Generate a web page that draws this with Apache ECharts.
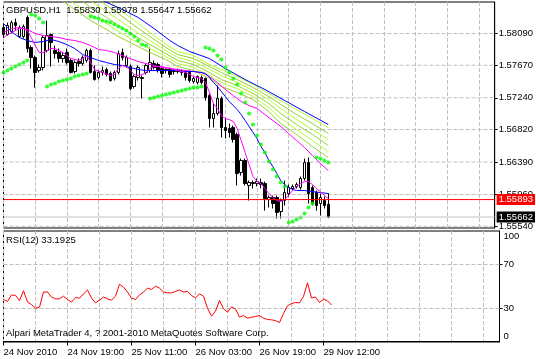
<!DOCTYPE html>
<html><head><meta charset="utf-8">
<script src="https://cdn.jsdelivr.net/npm/echarts@6/dist/echarts.min.js"></script>
<style>html,body{margin:0;padding:0;background:#fff}#c{width:536px;height:359px}</style>
</head><body><div id="c"></div>
<script>
// ---------- data ----------
const symbolTitle = 'GBPUSD,H1  1.55830 1.55978 1.55647 1.55662';
const rsiTitle = 'RSI(12) 33.1925';
const copyright = 'Alpari MetaTrader 4, ? 2001-2010 MetaQuotes Software Corp.';
const timeLabels = ['24 Nov 2010','24 Nov 19:00','25 Nov 11:00','26 Nov 03:00','26 Nov 19:00','29 Nov 12:00'];
const timeLabelBars = [0,16,32,48,64,80];
const totalSlots = 125; // 83 bars + empty chart shift
const priceTicks = [1.58090,1.57670,1.57240,1.56820,1.56390,1.55960,1.55540];
const rsiTicks = [0,30,70,100];
const rsiLevels = [30,70];
const markedLevel = 1.55893;
const bidLevel = 1.55662;

// [open, close, low, high]
const ohlc = [
[1.58169,1.58077,1.58037,1.58222],[1.58077,1.58196,1.58063,1.58235],[1.58116,1.58235,1.58090,1.58262],
[1.58235,1.58196,1.58130,1.58288],[1.58050,1.58169,1.58037,1.58196],[1.58050,1.58182,1.58024,1.58209],
[1.58302,1.57891,1.57839,1.58328],[1.57905,1.57772,1.57627,1.57931],[1.57772,1.57574,1.57375,1.57799],
[1.57600,1.57640,1.57574,1.57680],[1.57640,1.58037,1.57600,1.58063],[1.57865,1.58063,1.57839,1.58262],
[1.58077,1.57971,1.57653,1.58090],[1.57865,1.57825,1.57759,1.57931],[1.57839,1.57759,1.57706,1.57891],
[1.57759,1.57799,1.57706,1.57839],[1.57839,1.57706,1.57680,1.57891],[1.57733,1.57574,1.57561,1.57759],
[1.57587,1.57706,1.57561,1.57733],[1.57719,1.57693,1.57653,1.57759],[1.57693,1.57772,1.57667,1.57799],
[1.57733,1.57865,1.57706,1.57891],[1.57865,1.57574,1.57561,1.57891],[1.57587,1.57481,1.57468,1.57667],
[1.57508,1.57574,1.57481,1.57600],[1.57574,1.57600,1.57534,1.57653],[1.57614,1.57547,1.57521,1.57640],
[1.57561,1.57468,1.57455,1.57587],[1.57495,1.57574,1.57468,1.57600],[1.57574,1.57825,1.57547,1.57865],
[1.57839,1.57772,1.57733,1.57891],[1.57667,1.57772,1.57640,1.57799],[1.57653,1.57362,1.57336,1.57680],
[1.57389,1.57521,1.57362,1.57547],[1.57508,1.57640,1.57468,1.57667],[1.57508,1.57495,1.57230,1.57534],
[1.57574,1.57667,1.57547,1.57693],[1.57600,1.57706,1.57574,1.57905],[1.57693,1.57640,1.57614,1.57733],
[1.57680,1.57600,1.57574,1.57706],[1.57627,1.57561,1.57508,1.57653],[1.57600,1.57614,1.57561,1.57627],
[1.57614,1.57547,1.57508,1.57640],[1.57587,1.57600,1.57547,1.57627],[1.57600,1.57587,1.57561,1.57627],
[1.57587,1.57574,1.57534,1.57614],[1.57574,1.57508,1.57468,1.57600],[1.57574,1.57468,1.57442,1.57600],
[1.57455,1.57495,1.57428,1.57521],[1.57442,1.57521,1.57415,1.57534],[1.57508,1.57442,1.57415,1.57534],
[1.57495,1.57243,1.57204,1.57508],[1.57270,1.56965,1.56846,1.57296],[1.56965,1.57032,1.56846,1.57164],
[1.57032,1.57230,1.57005,1.57402],[1.57230,1.56846,1.56714,1.57256],[1.56846,1.56807,1.56701,1.56965],
[1.56833,1.56780,1.56714,1.56899],[1.56846,1.56688,1.56648,1.56873],[1.56754,1.56238,1.56079,1.56780],
[1.56251,1.56410,1.56211,1.56436],[1.56410,1.56105,1.56079,1.56436],[1.56079,1.56119,1.55881,1.56145],
[1.56119,1.56105,1.56039,1.56145],[1.56105,1.56132,1.56066,1.56172],[1.56119,1.56092,1.56039,1.56172],
[1.56105,1.55907,1.55748,1.56132],[1.55894,1.55920,1.55788,1.55947],[1.55920,1.55841,1.55775,1.55947],
[1.55920,1.55722,1.55642,1.55947],[1.55735,1.55881,1.55642,1.55907],[1.55881,1.55986,1.55814,1.56145],
[1.55973,1.56052,1.55933,1.56092],[1.56039,1.56066,1.56013,1.56092],[1.56066,1.56092,1.56039,1.56119],
[1.56052,1.56172,1.56026,1.56198],[1.56172,1.56383,1.56145,1.56436],[1.56383,1.55973,1.55841,1.56450],
[1.56052,1.55841,1.55814,1.56079],[1.55986,1.55814,1.55748,1.56013],[1.55841,1.55920,1.55682,1.55973],
[1.55881,1.55814,1.55775,1.55933],[1.55830,1.55662,1.55647,1.55978]
];

const parabolicSar = [1.57574,1.57600,1.57627,1.57653,1.57680,1.57706,1.57733,1.58341,1.58328,1.58288,1.58235,
1.57389,1.57415,1.57428,1.57455,1.57468,1.57481,1.57495,1.57521,1.57534,1.57547,1.57561,
1.58315,1.58302,1.58288,1.58262,1.58249,1.58235,1.58209,1.58182,1.58156,1.58130,1.58090,1.58050,1.57997,1.57944,1.57931,
1.57230,1.57243,1.57256,1.57270,1.57283,1.57296,1.57309,1.57323,1.57336,1.57349,1.57362,1.57375,1.57375,1.57389,
1.57905,1.57891,1.57865,1.57799,1.57746,1.57640,1.57574,1.57495,1.57415,1.57296,1.57177,1.57032,1.56886,1.56740,1.56621,1.56516,1.56397,1.56291,1.56198,1.56119,1.56066,
1.55589,1.55602,1.55629,1.55656,1.55709,1.55788,1.55841,
1.56450,1.56436,1.56410,1.56383];

// [bar, value]
const maFast = [[0,1.58037],[2,1.58103],[4,1.58156],[5,1.58156],[6,1.58130],[7,1.58037],[8,1.57931],[9,1.57839],[10,1.57839],[11,1.57865],[12,1.57891],[13,1.57891],[15,1.57839],[17,1.57759],[19,1.57733],[20,1.57759],[21,1.57799],[22,1.57706],[23,1.57614],[25,1.57574],[27,1.57534],[28,1.57547],[29,1.57627],[30,1.57667],[31,1.57653],[32,1.57600],[33,1.57547],[34,1.57534],[35,1.57547],[36,1.57574],[37,1.57627],[38,1.57653],[40,1.57653],[42,1.57627],[44,1.57600],[46,1.57574],[48,1.57521],[50,1.57495],[51,1.57442],[52,1.57309],[53,1.57164],[54,1.57098],[55,1.57005],[56,1.56965],[57,1.56952],[58,1.56926],[59,1.56833],[60,1.56674],[61,1.56516],[62,1.56357],[63,1.56198],[64,1.56132],[65,1.56105],[66,1.56039],[67,1.55973],[68,1.55920],[69,1.55881],[70,1.55867],[71,1.55894],[72,1.55947],[73,1.56013],[74,1.56066],[75,1.56105],[76,1.56132],[77,1.56132],[78,1.56092],[79,1.56039],[80,1.55999],[81,1.55947],[82,1.55907]];
const maMedium = [[0,1.58222],[1,1.58169],[2,1.58116],[4,1.58037],[6,1.57997],[8,1.57971],[10,1.57984],[12,1.58011],[14,1.57984],[16,1.57944],[18,1.57891],[20,1.57812],[22,1.57772],[24,1.57733],[26,1.57706],[28,1.57680],[30,1.57667],[32,1.57640],[34,1.57614],[36,1.57600],[40,1.57600],[44,1.57600],[46,1.57587],[48,1.57587],[50,1.57574],[51,1.57561],[52,1.57508],[53,1.57442],[54,1.57389],[55,1.57323],[56,1.57256],[57,1.57190],[58,1.57137],[59,1.57084],[60,1.57018],[61,1.56939],[62,1.56860],[63,1.56780],[64,1.56701],[65,1.56595],[66,1.56516],[67,1.56410],[68,1.56331],[69,1.56238],[70,1.56145],[71,1.56092],[72,1.56052],[73,1.56026],[74,1.56013],[76,1.56013],[78,1.55999],[80,1.55986],[82,1.55973]];
const maSlow = [[0,1.58103],[2,1.58156],[4,1.58169],[6,1.58143],[8,1.58090],[10,1.58063],[12,1.58050],[14,1.58037],[16,1.58011],[18,1.57997],[20,1.57971],[22,1.57931],[24,1.57878],[26,1.57865],[28,1.57839],[30,1.57799],[32,1.57759],[34,1.57719],[36,1.57693],[38,1.57667],[40,1.57640],[42,1.57627],[44,1.57614],[46,1.57600],[48,1.57587],[50,1.57574],[52,1.57521],[54,1.57442],[56,1.57349],[58,1.57270],[60,1.57190],[62,1.57137],[64,1.57098],[66,1.57018],[68,1.56939],[70,1.56860],[72,1.56767],[74,1.56674],[76,1.56582],[78,1.56476],[80,1.56370],[82,1.56277]];
const maLong = [[23,1.58567],[25,1.58527],[30,1.58408],[34,1.58302],[38,1.58156],[42,1.57997],[44,1.57931],[47,1.57852],[52,1.57759],[56,1.57627],[61,1.57481],[66,1.57349],[71,1.57204],[76,1.57058],[82,1.56886]];
const ribbon0 = [[14,1.58553],[22,1.58262],[26,1.58143],[29,1.58050],[33,1.57944],[37,1.57839],[41,1.57746],[44,1.57653],[48,1.57600],[52,1.57495],[55,1.57389],[59,1.57309],[63,1.57217],[67,1.57058],[70,1.56899],[74,1.56754],[78,1.56595],[82,1.56450]];
const ribbon1 = [[16,1.58553],[22,1.58341],[26,1.58222],[29,1.58116],[33,1.57997],[37,1.57891],[41,1.57786],[44,1.57693],[48,1.57640],[52,1.57534],[55,1.57442],[59,1.57362],[63,1.57256],[67,1.57111],[70,1.56965],[74,1.56820],[78,1.56674],[82,1.56529]];
const ribbon2 = [[19,1.58553],[22,1.58434],[26,1.58302],[29,1.58196],[33,1.58063],[37,1.57944],[41,1.57825],[44,1.57733],[48,1.57680],[52,1.57574],[55,1.57481],[59,1.57402],[63,1.57296],[67,1.57164],[70,1.57032],[74,1.56886],[78,1.56754],[82,1.56608]];
const ribbon3 = [[21,1.58553],[26,1.58381],[29,1.58275],[33,1.58130],[37,1.57997],[41,1.57865],[44,1.57772],[48,1.57719],[52,1.57614],[55,1.57534],[59,1.57442],[63,1.57336],[67,1.57217],[70,1.57098],[74,1.56952],[78,1.56820],[82,1.56688]];
const ribbon4 = [[24,1.58553],[26,1.58460],[29,1.58355],[33,1.58196],[37,1.58050],[41,1.57905],[44,1.57812],[48,1.57759],[52,1.57653],[55,1.57574],[59,1.57481],[63,1.57375],[67,1.57256],[70,1.57151],[74,1.57018],[78,1.56899],[82,1.56767]];
const ribbon5 = [[26,1.58553],[29,1.58421],[33,1.58262],[37,1.58103],[41,1.57944],[44,1.57852],[48,1.57799],[52,1.57680],[55,1.57614],[59,1.57521],[63,1.57415],[67,1.57296],[70,1.57204],[74,1.57084],[78,1.56965],[82,1.56846]];

const rsi = [38.2,36.4,42.4,41.8,37.3,46.1,35.8,33.6,30.3,31.2,
45.0,45.0,40.4,38.8,38.8,41.2,38.2,35.8,40.0,39.4,
43.3,46.9,39.4,35.2,37.6,40.4,38.8,37.6,41.2,52.1,
49.4,45.0,39.4,38.2,42.4,45.0,48.5,47.3,50.3,48.5,
45.0,44.2,44.2,45.5,46.9,45.0,45.5,41.8,39.7,43.3,
41.2,30.3,23.0,27.6,37.3,29.7,26.7,31.5,29.7,22.1,
23.6,21.2,22.1,22.7,23.6,21.2,20.0,19.7,19.0,17.2,
25.5,32.5,34.5,35.5,35.2,41.0,53.3,39.5,40.4,35.5,
38.5,37.0,33.19];

// ---------- chart ----------
const FONT = '"Liberation Sans", Arial, sans-serif';
const FS = 9.5;
const lastSlot = totalSlots - 1;
const categories = Array.from({length: totalSlots}, (_, i) => String(i));
const dash = {type: [4, 2], color: '#c0c0c0', width: 1};
const isTimeTick = i => timeLabelBars.indexOf(i) >= 0;
const ribbonColors = ['#9ACD32', '#ADFF2F', '#9ACD32', '#ADFF2F', '#9ACD32', '#ADFF2F'];
const ribbons = [ribbon0, ribbon1, ribbon2, ribbon3, ribbon4, ribbon5];

function lineSeries(data, color, z) {
  return {type: 'line', xAxisIndex: 0, yAxisIndex: 0, data: data, showSymbol: false, symbol: 'none',
    lineStyle: {color: color, width: 1}, z: z, silent: true, clip: true};
}
function hLine(value, axis, lineStyle, z, endLabel) {
  const s = {type: 'line', xAxisIndex: axis, yAxisIndex: axis, data: [[0, value], [lastSlot, value]],
    showSymbol: false, symbol: 'none', lineStyle: lineStyle, z: z, silent: true, clip: false};
  if (endLabel) s.endLabel = endLabel;
  return s;
}
function boxLabel(value, bg) {
  return {show: true, formatter: value.toFixed(5), color: '#fff', backgroundColor: bg, distance: 2,
    padding: [1, 2, 0, 2], fontFamily: FONT, fontSize: FS, align: 'left', verticalAlign: 'middle'};
}

const series = [];
priceTicks.forEach(v => series.push(hLine(v, 0, dash, 1)));
series.push({type: 'candlestick', xAxisIndex: 0, yAxisIndex: 0, data: ohlc, barWidth: 3, z: 2, silent: true,
   itemStyle: {color: '#ffffff', color0: '#000000', borderColor: '#000000', borderColor0: '#000000', borderWidth: 1}});
ribbons.forEach((r, k) => series.push(lineSeries(r, ribbonColors[k], 3)));
series.push(lineSeries(maLong, '#0000FF', 4));
series.push(lineSeries(maSlow, '#FF00FF', 4));
series.push(lineSeries(maMedium, '#0000FF', 4));
series.push(lineSeries(maFast, '#FF00FF', 4));
series.push({type: 'scatter', xAxisIndex: 0, yAxisIndex: 0, data: parabolicSar, symbol: 'circle', symbolSize: 4,
  itemStyle: {color: '#00FF00'}, z: 5, silent: true});
series.push(hLine(markedLevel, 0, {color: '#FF0000', width: 1}, 6, boxLabel(markedLevel, '#FF0000')));
series.push(hLine(bidLevel, 0, {color: '#C0C0C0', width: 1}, 6, boxLabel(bidLevel, '#000000')));
rsiLevels.forEach(v => series.push(hLine(v, 1, dash, 1)));
series.push({type: 'line', xAxisIndex: 1, yAxisIndex: 1, data: rsi, showSymbol: false, symbol: 'none',
  lineStyle: {color: '#FF0000', width: 1}, z: 3, silent: true});

const chart = echarts.init(document.getElementById('c'), null, {renderer: 'canvas'});
chart.setOption({
  animation: false,
  backgroundColor: '#ffffff',
  textStyle: {fontFamily: FONT, fontSize: FS},
  grid: [
    {left: 3.5, right: 36.5, top: 2, height: 226, show: true, borderColor: '#000', borderWidth: 1},
    {left: 3.5, right: 36.5, top: 231, height: 111, show: true, borderColor: '#000', borderWidth: 1}
  ],
  xAxis: [
    {type: 'category', gridIndex: 0, data: categories, boundaryGap: false,
     axisLine: {show: false}, axisTick: {show: false}, axisLabel: {show: false},
     splitLine: {show: true, interval: 7, lineStyle: dash}},
    {type: 'category', gridIndex: 1, data: categories, boundaryGap: false,
     axisLine: {show: true, lineStyle: {color: '#000'}},
     axisTick: {show: true, interval: (i) => isTimeTick(i), length: 4, lineStyle: {color: '#000'}},
     axisLabel: {show: true, interval: (i) => isTimeTick(i), formatter: (v, i) => timeLabels[timeLabelBars.indexOf(i)] || '',
       align: 'left', margin: 5, color: '#000', fontFamily: FONT, fontSize: FS},
     splitLine: {show: true, interval: 7, lineStyle: dash}}
  ],
  yAxis: [
    {type: 'value', gridIndex: 0, position: 'right', min: 1.55517, max: 1.58507,
     axisLine: {show: true, lineStyle: {color: '#000'}},
     axisTick: {show: true, length: 3, customValues: priceTicks, lineStyle: {color: '#000'}},
     axisLabel: {show: true, customValues: priceTicks, formatter: v => v.toFixed(5), margin: 4, color: '#000', fontFamily: FONT, fontSize: FS},
     splitLine: {show: false}},
    {type: 'value', gridIndex: 1, position: 'right', min: -0.45, max: 100.45,
     axisLine: {show: true, lineStyle: {color: '#000'}},
     axisTick: {show: true, length: 3, customValues: rsiLevels, lineStyle: {color: '#000'}},
     axisLabel: {show: true, customValues: rsiTicks, formatter: v => String(v), margin: 4, color: '#000', fontFamily: FONT, fontSize: FS,
       verticalAlignMinLabel: 'bottom', verticalAlignMaxLabel: 'top'},
     splitLine: {show: false}}
  ],
  graphic: [
    {type: 'text', left: 6, top: 5, z: 10, silent: true, style: {text: symbolTitle, fill: '#000', font: FS + 'px ' + FONT}},
    {type: 'text', left: 6, top: 235, z: 10, silent: true, style: {text: rsiTitle, fill: '#000', font: FS + 'px ' + FONT}},
    {type: 'text', left: 6, top: 328, z: 10, silent: true, style: {text: copyright, fill: '#000', font: FS + 'px ' + FONT}}
  ],
  series: series
});
</script>
</body></html>
